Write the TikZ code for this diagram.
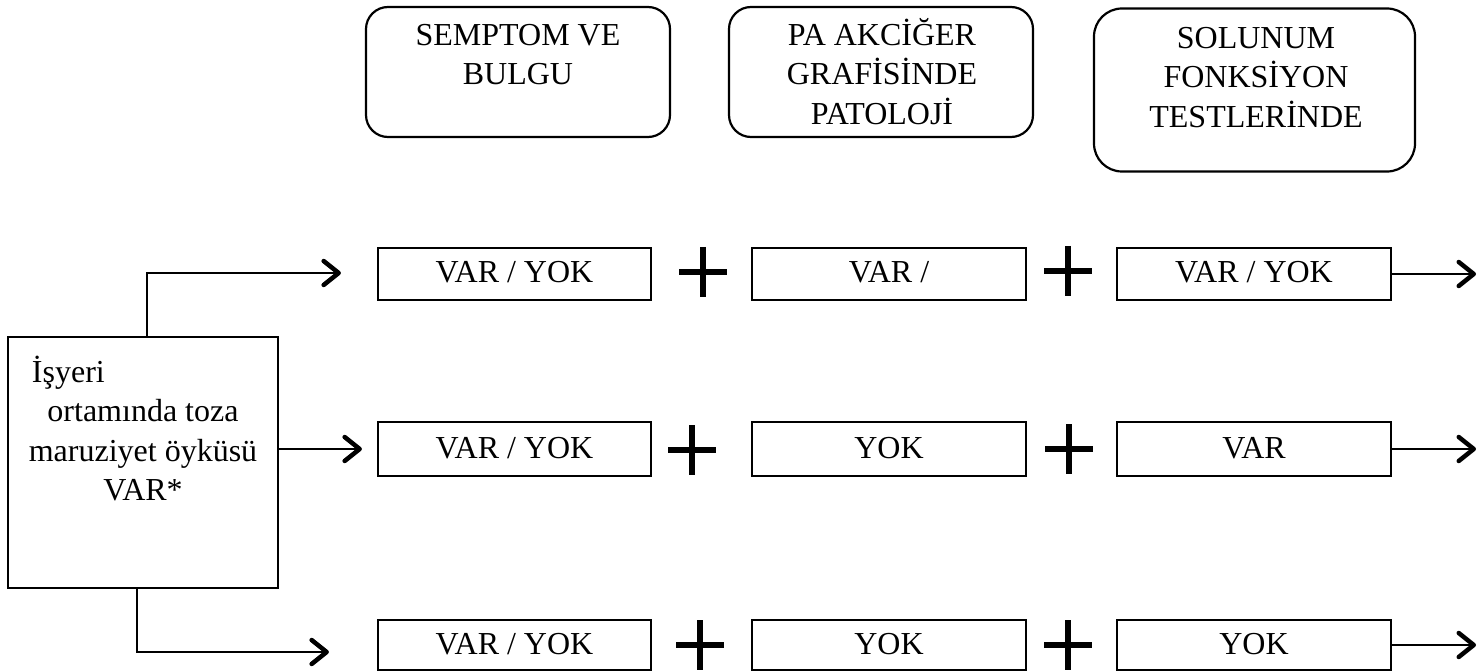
\documentclass[tikz,border=0pt]{standalone}
\usepackage{fontspec}
\setmainfont{Liberation Serif}
\usetikzlibrary{arrows.meta,calc}
\begin{document}
\begin{tikzpicture}[x=1pt,y=-1pt,
  every node/.style={inner sep=0pt},
  bigfont/.style={font=\fontsize{32}{39.5}\selectfont},
  topbox/.style={draw, line width=2.2pt, rounded corners=22pt, minimum width=304pt, minimum height=130pt},
  toptext/.style={anchor=north, align=center, bigfont},
  rowbox/.style={draw, line width=2.2pt, minimum height=52pt, text height=22pt, text depth=4pt, bigfont},
  plussign/.style={minimum width=48pt, minimum height=50pt,
    path picture={\draw[line width=5.5pt]
      (path picture bounding box.north) -- (path picture bounding box.south)
      (path picture bounding box.west) -- (path picture bounding box.east);}},
  conn/.style={line width=2pt, -{Straight Barb[length=15pt,width=24pt,line width=4.5pt,round]}}
]
\useasboundingbox (0,0) rectangle (1478,671);

% top headers
\node[topbox] (tb1) at (518,72) {};
\node[topbox] (tb2) at (881,72) {};
\node[topbox, minimum width=321pt, minimum height=163pt, rounded corners=28pt] (tb3) at (1254.5,90) {};
\node[toptext] (tt1) at (518,15) {\rule{0pt}{30pt}SEMPTOM VE\\BULGU};
\node[toptext] (tt2) at (882,15) {\rule{0pt}{30pt}PA AKCİĞER\\GRAFİSİNDE\\PATOLOJİ};
\node[toptext] (tt3) at (1256,18) {\rule{0pt}{30pt}SOLUNUM\\FONKSİYON\\TESTLERİNDE};

% left box
\node[draw, line width=2.2pt, minimum width=270pt, minimum height=251pt] (lb) at (143,462.5) {};
\node[toptext] (lt) at (143,352) {\rule{0pt}{30pt}\makebox[222pt][l]{İşyeri}\\ortamında toza\\maruziyet öyküsü\\VAR*};

% row 1
\node[rowbox, minimum width=273pt] (r1a) at (514.5,274) {VAR / YOK};
\node[plussign] (p1a) at (703,272) {};
\node[rowbox, minimum width=274pt] (r1b) at (889,274) {VAR /};
\node[plussign] (p1b) at (1068,271) {};
\node[rowbox, minimum width=274pt] (r1c) at (1254,274) {VAR / YOK};

% row 2
\node[rowbox, minimum width=273pt, minimum height=54pt] (r2a) at (514.5,449) {VAR / YOK};
\node[plussign] (p2a) at (692,450) {};
\node[rowbox, minimum width=274pt, minimum height=54pt] (r2b) at (889,449) {YOK};
\node[plussign] (p2b) at (1069,449) {};
\node[rowbox, minimum width=274pt, minimum height=54pt] (r2c) at (1254,449) {VAR};

% row 3
\node[rowbox, minimum width=273pt, minimum height=50pt] (r3a) at (514.5,645) {VAR / YOK};
\node[plussign] (p3a) at (700,645) {};
\node[rowbox, minimum width=274pt, minimum height=50pt] (r3b) at (889,645) {YOK};
\node[plussign] (p3b) at (1068,645) {};
\node[rowbox, minimum width=274pt, minimum height=50pt] (r3c) at (1254,645) {YOK};

% connectors from left box
\draw[conn, shorten >=36pt] ([xshift=4pt]lb.north) |- ([yshift=1pt]r1a.west);
\draw[conn, shorten >=15pt] (lb.east |- r2a.west) -- (r2a.west);
\draw[conn, shorten >=48pt] ([xshift=-6pt]lb.south) |- ([yshift=-7pt]r3a.west);

% outgoing arrows
\coordinate (e1) at (1476,273);
\coordinate (e2) at (1476,449);
\coordinate (e3) at (1476,645);
\draw[conn] (r1c.east) -- (r1c.east -| e1);
\draw[conn] (r2c.east) -- (r2c.east -| e2);
\draw[conn] (r3c.east) -- (r3c.east -| e3);
\end{tikzpicture}
\end{document}
